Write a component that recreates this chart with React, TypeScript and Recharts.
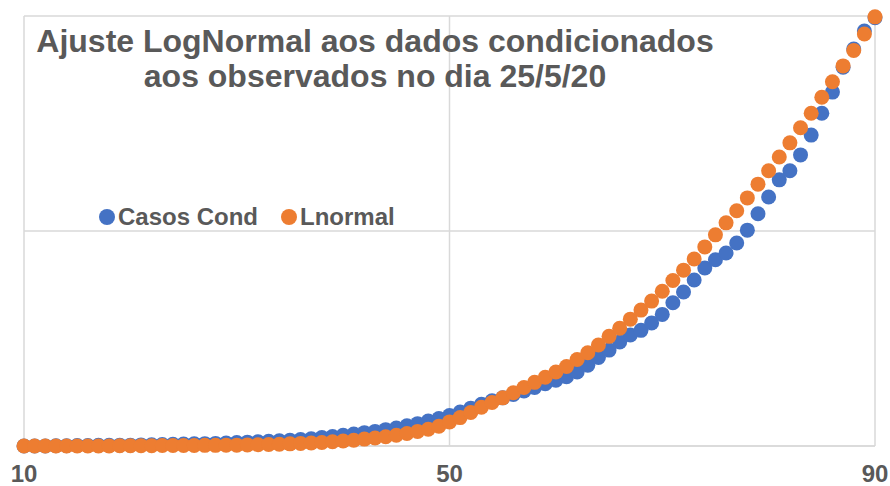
import React from 'react';
import { CartesianGrid, Legend, Scatter, ScatterChart, XAxis, YAxis } from 'recharts';

// day of the epidemic (x axis)
const days = [
  10, 11, 12, 13, 14, 15, 16, 17, 18, 19,
  20, 21, 22, 23, 24, 25, 26, 27, 28, 29,
  30, 31, 32, 33, 34, 35, 36, 37, 38, 39,
  40, 41, 42, 43, 44, 45, 46, 47, 48, 49,
  50, 51, 52, 53, 54, 55, 56, 57, 58, 59,
  60, 61, 62, 63, 64, 65, 66, 67, 68, 69,
  70, 71, 72, 73, 74, 75, 76, 77, 78, 79,
  80, 81, 82, 83, 84, 85, 86, 87, 88, 89,
  90,
];

// observed cases, conditioned (blue)
const casosCond = [
  0, 0, 0, 0.05, 0.05, 0.1, 0.1, 0.15, 0.15, 0.2,
  0.2, 0.25, 0.3, 0.35, 0.4, 0.45, 0.5, 0.55, 0.6, 0.7,
  0.8, 0.9, 1.0, 1.1, 1.2, 1.35, 1.5, 1.7, 1.95, 2.2,
  2.5, 2.8, 3.1, 3.4, 3.8, 4.2, 4.7, 5.2, 5.8, 6.4,
  7.1, 7.9, 8.8, 9.7, 10.5, 11.2, 12.0, 12.8, 13.6, 14.5,
  15.3, 16.1, 17.2, 18.8, 20.6, 22.3, 24.2, 25.8, 26.9, 28.6,
  30.6, 33.3, 35.8, 38.6, 41.4, 43.3, 44.9, 47.2, 50.2, 54.0,
  57.9, 61.9, 64.0, 67.7, 72.3, 77.4, 82.3, 88.1, 92.3, 96.5,
  99.6,
];

// lognormal fit (orange)
const lnormal = [
  0, 0, 0, 0, 0, 0, 0, 0, 0, 0.05,
  0.05, 0.05, 0.05, 0.1, 0.1, 0.1, 0.1, 0.15, 0.15, 0.2,
  0.2, 0.25, 0.3, 0.35, 0.4, 0.5, 0.6, 0.7, 0.8, 1.0,
  1.15, 1.35, 1.6, 1.85, 2.15, 2.5, 2.9, 3.4, 3.9, 4.6,
  5.6, 6.6, 7.8, 9.0, 10.1, 11.2, 12.4, 13.6, 14.8, 16.0,
  17.2, 18.5, 20.1, 21.7, 23.5, 25.5, 27.4, 29.5, 31.6, 33.7,
  36.0, 38.5, 40.9, 43.5, 46.3, 49.1, 51.9, 54.7, 57.7, 60.9,
  64.0, 67.2, 70.5, 74.0, 77.4, 81.1, 84.7, 88.4, 92.0, 95.8,
  99.8,
];

const xTicks = [10, 50, 90];
const yTicks = [0, 50, 100];

const BLUE = '#4472C4';
const ORANGE = '#ED7D31';
const TEXT = '#595959';
const GRID = '#D9D9D9';
const FONT = '"Liberation Sans", Arial, sans-serif';

const casosData = days.map((d, i) => ({ x: d, y: casosCond[i] }));
const lnormalData = days.map((d, i) => ({ x: d, y: lnormal[i] }));

const dot = (color: string) => (props: any) => (
  <circle cx={props.cx} cy={props.cy} r={7.5} fill={color} />
);

const XTick = (props: any) => (
  <text
    x={props.x}
    y={props.y + 36}
    textAnchor="middle"
    fill={TEXT}
    fontSize={24}
    fontWeight="bold"
    fontFamily={FONT}
  >
    {props.payload.value}
  </text>
);

const renderLegend = () => (
  <div style={{ display: 'flex', alignItems: 'center', fontFamily: FONT, fontSize: 24, fontWeight: 'bold', color: TEXT, lineHeight: '28px' }}>
    {[
      { label: 'Casos Cond', color: BLUE },
      { label: 'Lnormal', color: ORANGE },
    ].map((item, i) => (
      <span key={item.label} style={{ display: 'flex', alignItems: 'center', marginLeft: i ? 23 : 0 }}>
        <span style={{ width: 16, height: 16, borderRadius: 8, background: item.color, marginRight: 3 }} />
        {item.label}
      </span>
    ))}
  </div>
);

export default function App() {
  return (
    <div style={{ position: 'absolute', left: 0, top: 0, width: 890, height: 486, background: '#fff' }}>
      <ScatterChart width={890} height={486} margin={{ top: 16, right: 15, bottom: 0, left: 24 }}>
        <CartesianGrid stroke={GRID} strokeWidth={1.5} />
        <XAxis
          type="number"
          dataKey="x"
          domain={[10, 90]}
          ticks={xTicks}
          height={40}
          tickLine={false}
          tickSize={0}
          tickMargin={0}
          axisLine={{ stroke: GRID, strokeWidth: 1.5 }}
          tick={<XTick />}
        />
        <YAxis type="number" dataKey="y" domain={[0, 100]} ticks={yTicks} hide />
        <Legend
          layout="horizontal"
          verticalAlign="middle"
          content={renderLegend}
          wrapperStyle={{ left: 99, top: 203, width: 'auto' }}
        />
        <Scatter name="Casos Cond" data={casosData} fill={BLUE} shape={dot(BLUE)} isAnimationActive={false} />
        <Scatter name="Lnormal" data={lnormalData} fill={ORANGE} shape={dot(ORANGE)} isAnimationActive={false} />
      </ScatterChart>
      <div
        style={{
          position: 'absolute',
          left: 0,
          top: 24,
          width: 750,
          textAlign: 'center',
          fontFamily: FONT,
          fontSize: 32,
          fontWeight: 'bold',
          lineHeight: '35px',
          color: TEXT,
        }}
      >
        Ajuste LogNormal aos dados condicionados
        <br />
        aos observados no dia 25/5/20
      </div>
    </div>
  );
}
